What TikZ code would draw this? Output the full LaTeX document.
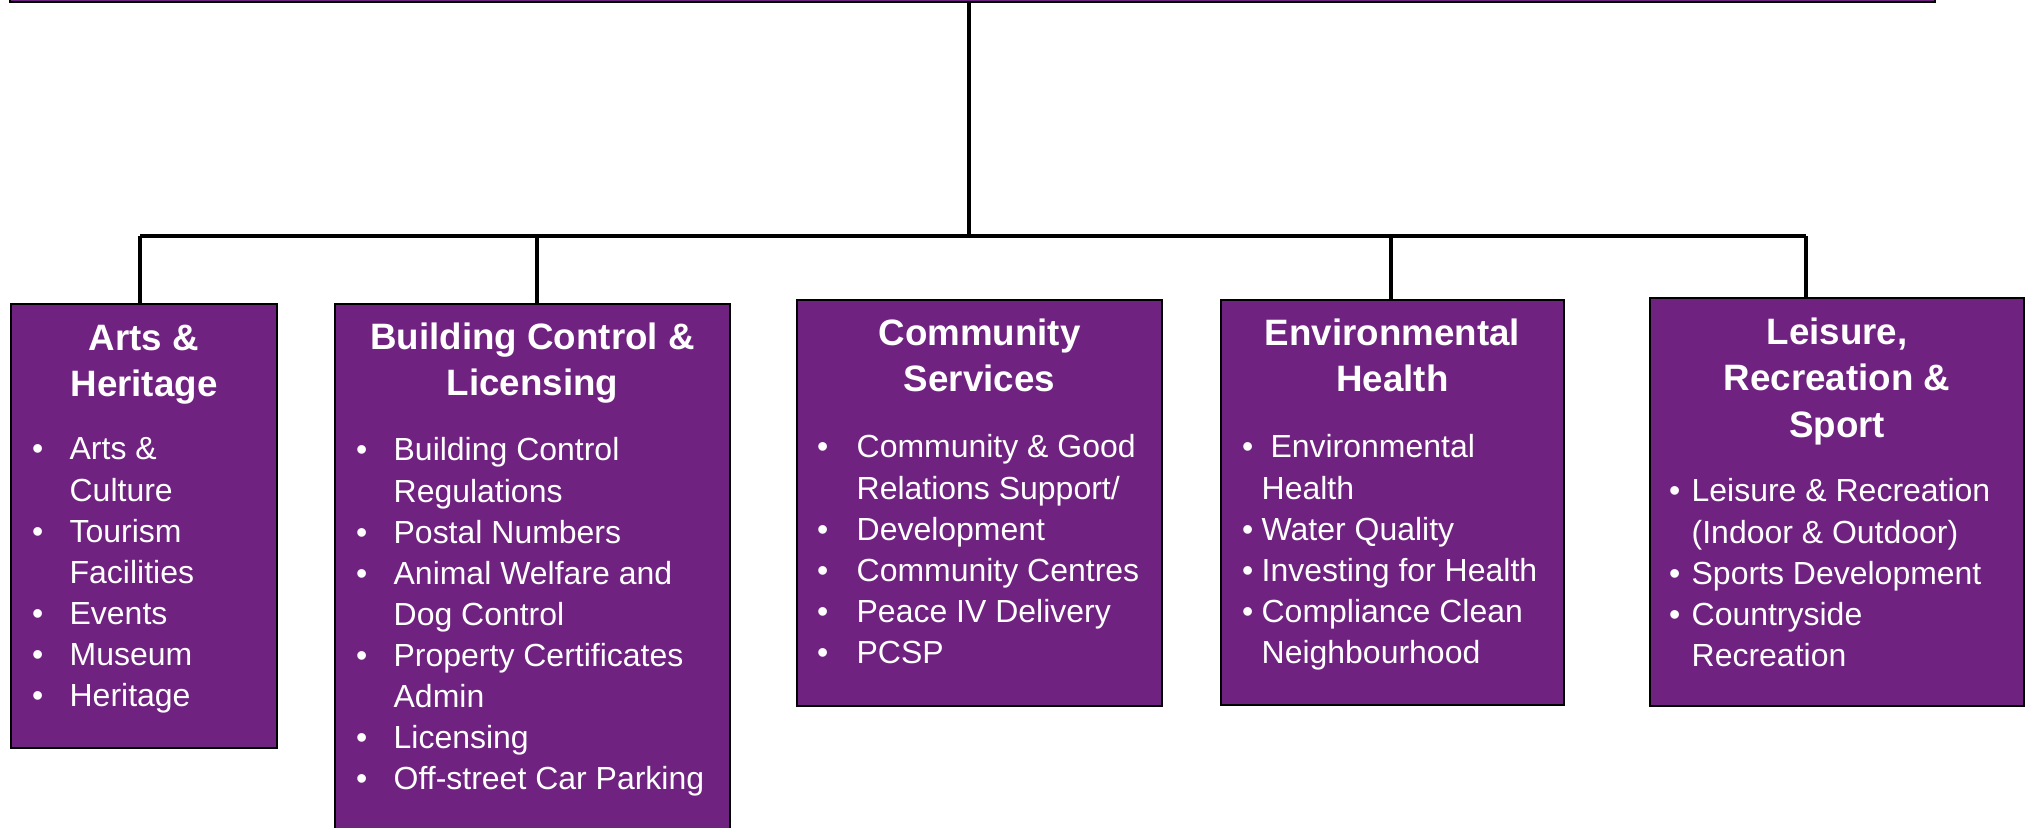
\documentclass[tikz,border=0pt]{standalone}
\usepackage{fontspec}
\setmainfont{Liberation Sans}
\usepackage{tikz}
\definecolor{deptpurple}{RGB}{112,34,128}
\newcommand{\deptbul}[1]{\makebox[#1][l]{\makebox[0pt]{\textbullet}}}

\begin{document}
\begin{tikzpicture}[x=0.1mm, y=-0.1mm]
	\tikzstyle{dept}=[rectangle, fill=deptpurple, draw=black, line width=.6pt, inner sep=0pt]
	\tikzstyle{depttitle}=[text=white, inner sep=0pt, anchor=base, font=\bfseries\fontsize{10.45}{13.1}\selectfont]
	\tikzstyle{deptlist}=[text=white, inner sep=0pt, anchor=base west, font=\fontsize{9.1}{11.7}\selectfont]
	\tikzstyle{link}=[draw=black, line width=.9pt]
	\useasboundingbox (0,0) rectangle (2031,828);
	\clip (0,0) rectangle (2031,828);
	% council box, cut off at the top
	\path (972.5,-40) node[dept, minimum width=192.5mm, minimum height=8.4mm] (council) {};
	% departments
	\path (144,526)    node[dept, minimum width=26.6mm, minimum height=44.4mm] (arts) {};
	\path (532.5,600)  node[dept, minimum width=39.5mm, minimum height=59.2mm] (build) {};
	\path (979.5,503)  node[dept, minimum width=36.5mm, minimum height=40.6mm] (comm) {};
	\path (1392.5,502.5) node[dept, minimum width=34.3mm, minimum height=40.5mm] (env) {};
	\path (1837,502)   node[dept, minimum width=37.4mm, minimum height=40.8mm] (leis) {};
	% titles
	\path (arts.north) ++(0,48) node[depttitle] (artsT) {\begin{tabular}[t]{@{}c@{}}Arts \&\\Heritage\end{tabular}};
	\path (build.north) ++(0,47) node[depttitle] (buildT) {\begin{tabular}[t]{@{}c@{}}Building Control \&\\Licensing\end{tabular}};
	\path (comm.north) ++(0,47) node[depttitle] (commT) {\begin{tabular}[t]{@{}c@{}}Community\\Services\end{tabular}};
	\path (env.north) ++(0,47) node[depttitle] (envT) {\begin{tabular}[t]{@{}c@{}}Environmental\\Health\end{tabular}};
	\path (leis.north) ++(0,48) node[depttitle] (leisT) {\begin{tabular}[t]{@{}c@{}}Leisure,\\Recreation \&\\Sport\end{tabular}};
	% duties
	\path (arts.north west) ++(27,157) node[deptlist] (artsL) {\begin{tabular}[t]{@{}l@{}l@{}}
		\deptbul{3.2mm} & Arts \&\\
		& Culture\\
		\deptbul{3.2mm} & Tourism\\
		& Facilities\\
		\deptbul{3.2mm} & Events\\
		\deptbul{3.2mm} & Museum\\
		\deptbul{3.2mm} & Heritage
	\end{tabular}};
	\path (build.north west) ++(27,158) node[deptlist] (buildL) {\begin{tabular}[t]{@{}l@{}l@{}}
		\deptbul{3.2mm} & Building Control\\
		& Regulations\\
		\deptbul{3.2mm} & Postal Numbers\\
		\deptbul{3.2mm} & Animal Welfare and\\
		& Dog Control\\
		\deptbul{3.2mm} & Property Certificates\\
		& Admin\\
		\deptbul{3.2mm} & Licensing\\
		\deptbul{3.2mm} & Off-street Car Parking
	\end{tabular}};
	\path (comm.north west) ++(26,159) node[deptlist] (commL) {\begin{tabular}[t]{@{}l@{}l@{}}
		\deptbul{3.4mm} & Community \& Good\\
		& Relations Support/\\
		\deptbul{3.4mm} & Development\\
		\deptbul{3.4mm} & Community Centres\\
		\deptbul{3.4mm} & Peace IV Delivery\\
		\deptbul{3.4mm} & PCSP
	\end{tabular}};
	\path (env.north west) ++(27,159) node[deptlist] (envL) {\begin{tabular}[t]{@{}l@{}l@{}}
		\deptbul{1.4mm} & \ Environmental\\
		& Health\\
		\deptbul{1.4mm} & Water Quality\\
		\deptbul{1.4mm} & Investing for Health\\
		\deptbul{1.4mm} & Compliance Clean\\
		& Neighbourhood
	\end{tabular}};
	\path (leis.north west) ++(25,205) node[deptlist] (leisL) {\begin{tabular}[t]{@{}l@{}l@{}}
		\deptbul{1.7mm} & Leisure \& Recreation\\
		& (Indoor \& Outdoor)\\
		\deptbul{1.7mm} & Sports Development\\
		\deptbul{1.7mm} & Countryside\\
		& Recreation
	\end{tabular}};
	% connectors
	\coordinate (hub) at (969,236);
	\coordinate (jarts) at (140,236);
	\coordinate (jbuild) at (537,236);
	\coordinate (jenv) at (1391,236);
	\coordinate (jleis) at (1806,236);
	\draw[link] (hub |- council.south) -- (hub);
	\draw[link] (jarts) -- (jleis);
	\draw[link] (jarts) -- (jarts |- arts.north);
	\draw[link] (jbuild) -- (jbuild |- build.north);
	\draw[link] (jenv) -- (jenv |- env.north);
	\draw[link] (jleis) -- (jleis |- leis.north);
\end{tikzpicture}
\end{document}
